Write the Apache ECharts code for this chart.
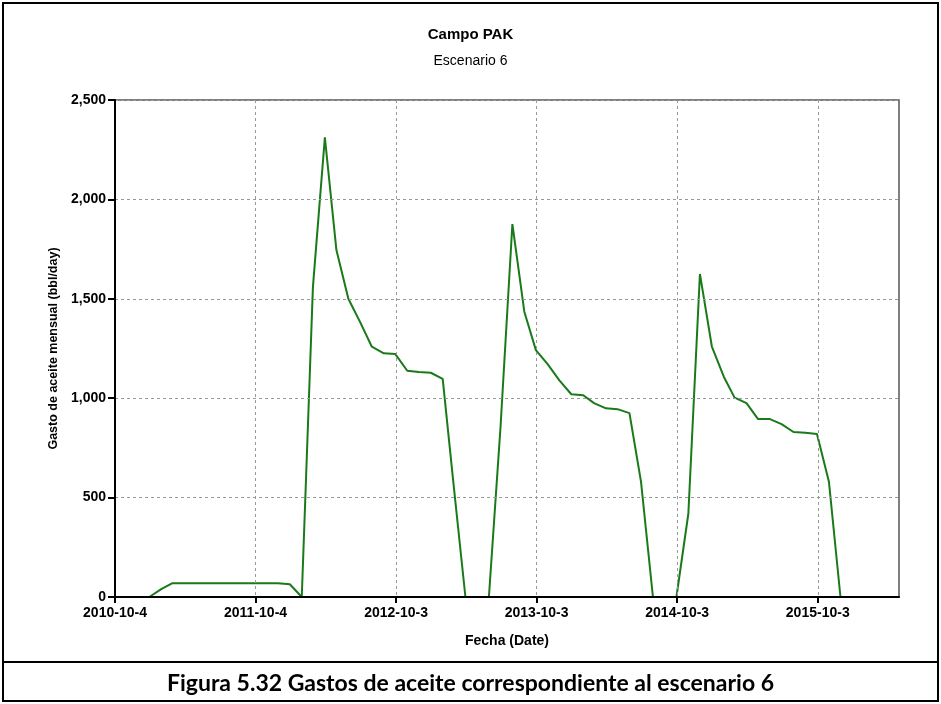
<!DOCTYPE html>
<html>
<head>
<meta charset="utf-8">
<script src="https://cdn.jsdelivr.net/npm/echarts@6/dist/echarts.min.js"></script>
<style>
html,body{margin:0;padding:0;background:#fff;}
#c{width:941px;height:704px;}
</style>
</head>
<body>
<div id="c"></div>
<script>
// ---- data ----
const axisStartDate = '2010-10-04';
const tickDates = ['2010-10-04','2011-10-04','2012-10-03','2013-10-03','2014-10-03','2015-10-03'];
const yTicks = [0, 500, 1000, 1500, 2000, 2500];

const months = [
  '2010-11-01','2010-12-01','2011-01-01','2011-02-01','2011-03-01','2011-04-01','2011-05-01','2011-06-01',
  '2011-07-01','2011-08-01','2011-09-01','2011-10-01','2011-11-01','2011-12-01','2012-01-01','2012-02-01',
  '2012-03-01','2012-04-01','2012-05-01','2012-06-01','2012-07-01','2012-08-01','2012-09-01','2012-10-01',
  '2012-11-01','2012-12-01','2013-01-01','2013-02-01','2013-03-01','2013-04-01','2013-05-01','2013-06-01',
  '2013-07-01','2013-08-01','2013-09-01','2013-10-01','2013-11-01','2013-12-01','2014-01-01','2014-02-01',
  '2014-03-01','2014-04-01','2014-05-01','2014-06-01','2014-07-01','2014-08-01','2014-09-01','2014-10-01',
  '2014-11-01','2014-12-01','2015-01-01','2015-02-01','2015-03-01','2015-04-01','2015-05-01','2015-06-01',
  '2015-07-01','2015-08-01','2015-09-01','2015-10-01','2015-11-01','2015-12-01','2016-01-01','2016-02-01',
  '2016-03-01','2016-04-01','2016-05-01'
];
const oilRate = [
  0, 0, 0, 40, 69, 69, 69, 69,
  69, 69, 69, 69, 69, 69, 64, 0,
  1560, 2312, 1745, 1500, 1385, 1259, 1226, 1222,
  1138, 1132, 1128, 1097, 570, 0, 0, 0,
  850, 1876, 1435, 1242, 1170, 1090, 1020, 1015,
  975, 949, 945, 925, 580, 0, 0, 0,
  420, 1625, 1260, 1108, 1003, 975, 895, 895,
  870, 830, 826, 820, 580, 0, 0, 0,
  0, 0, 0
];

// ---- helpers ----
const DAY = 86400000;
const t0 = Date.parse(axisStartDate + 'T00:00:00Z');
const toDay = s => Math.round((Date.parse(s + 'T00:00:00Z') - t0) / DAY);
const fmtDay = v => {
  const d = new Date(t0 + Math.round(v) * DAY);
  return d.getUTCFullYear() + '-' + (d.getUTCMonth() + 1) + '-' + d.getUTCDate();
};
const tickDays = tickDates.map(toDay);
const seriesData = months.map((m, i) => [toDay(m), oilRate[i]]);
const xMax = toDay(months[months.length - 1]);

const chart = echarts.init(document.getElementById('c'), null, {renderer: 'canvas'});
const F = 'Liberation Sans';
chart.setOption({
  animation: false,
  backgroundColor: '#fff',
  title: [
    {text: 'Campo PAK', left: 'center', top: 22,
     textStyle: {fontFamily: F, fontWeight: 'bold', fontSize: 15, color: '#000'}},
    {text: 'Escenario 6', left: 'center', top: 49,
     textStyle: {fontFamily: F, fontWeight: 'normal', fontSize: 14, color: '#000'}},
    {text: 'Figura 5.32 Gastos de aceite correspondiente al escenario 6', left: 'center', top: 667,
     textStyle: {fontFamily: 'Lato', fontWeight: 'bold', fontSize: 23, color: '#000'}}
  ],
  graphic: [
    {type: 'rect', shape: {x: 3, y: 3, width: 935, height: 698},
     style: {fill: 'none', stroke: '#000', lineWidth: 2}, z: 100},
    {type: 'line', shape: {x1: 3, y1: 662, x2: 938, y2: 662},
     style: {stroke: '#000', lineWidth: 2}, z: 100}
  ],
  grid: {left: 115, right: 42, top: 100, bottom: 107, show: true,
         borderColor: '#555', borderWidth: 1.5, backgroundColor: 'transparent'},
  xAxis: {
    type: 'value', min: 0, max: xMax, interval: 365, z: 5,
    name: 'Fecha (Date)', nameLocation: 'middle', nameGap: 37,
    nameTextStyle: {fontFamily: F, fontWeight: 'bold', fontSize: 14, color: '#000'},
    axisLine: {show: true, lineStyle: {color: '#000', width: 2}},
    axisTick: {show: true, length: 6, customValues: tickDays, lineStyle: {color: '#000', width: 2}},
    axisLabel: {customValues: tickDays, formatter: fmtDay, margin: 9,
                fontFamily: F, fontWeight: 'bold', fontSize: 14, color: '#000'},
    splitLine: {show: true, lineStyle: {color: '#999', type: [3, 3], width: 1}}
  },
  yAxis: {
    type: 'value', min: yTicks[0], max: yTicks[yTicks.length - 1], interval: 500, z: 5,
    name: 'Gasto de aceite mensual (bbl/day)', nameLocation: 'middle', nameGap: 49,
    nameTextStyle: {fontFamily: F, fontWeight: 'bold', fontSize: 12.5, color: '#000'},
    axisLine: {show: true, lineStyle: {color: '#000', width: 2}},
    axisTick: {show: true, length: 7, lineStyle: {color: '#000', width: 2}},
    axisLabel: {formatter: v => v.toLocaleString('en-US'), margin: 9,
                fontFamily: F, fontWeight: 'bold', fontSize: 14, color: '#000'},
    splitLine: {show: true, lineStyle: {color: '#999', type: [3, 3], width: 1}}
  },
  series: [{
    type: 'line', data: seriesData, showSymbol: false, z: 2,
    lineStyle: {color: '#1a7a1a', width: 2}
  }]
});
</script>
</body>
</html>
